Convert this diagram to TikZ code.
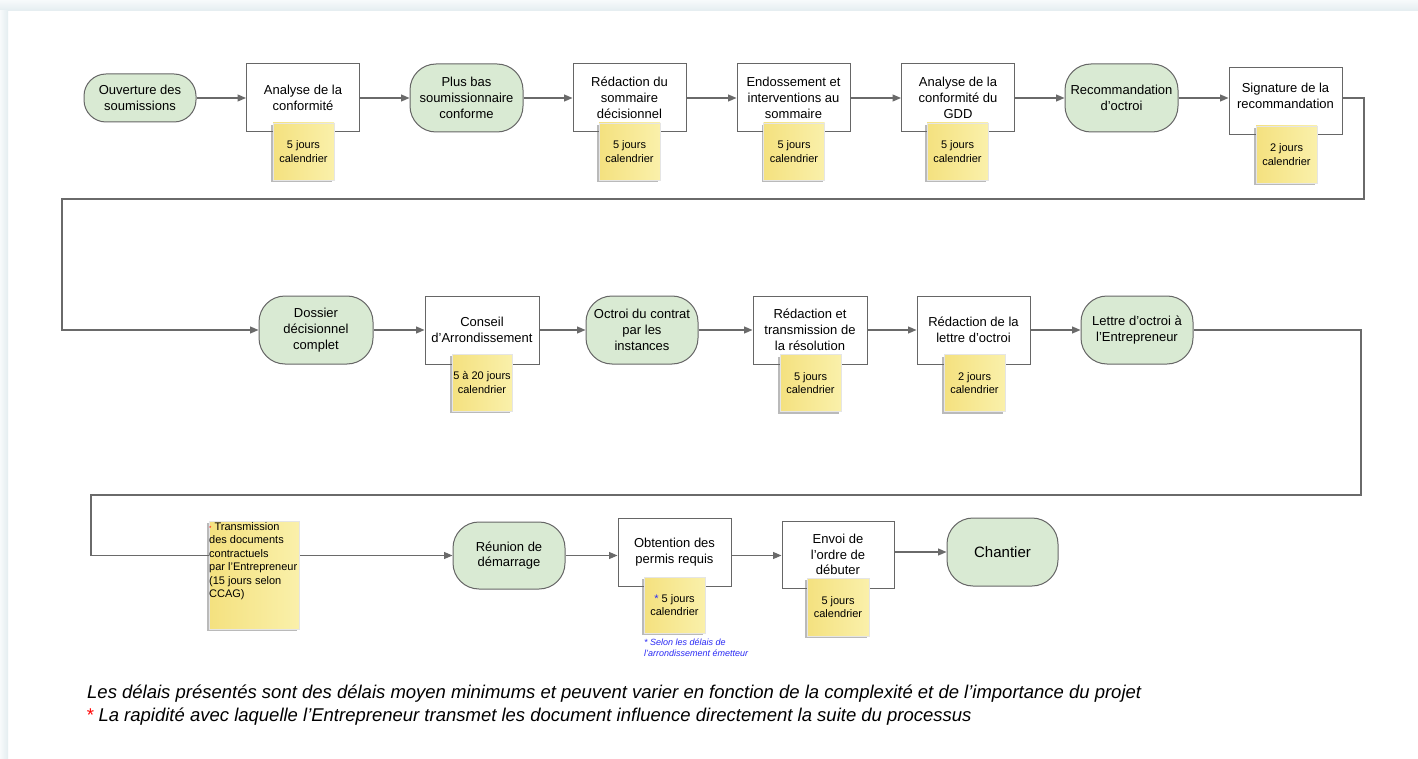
\documentclass[tikz,border=0pt]{standalone}
\usepackage{fontspec}
\setmainfont{Liberation Sans}
\usetikzlibrary{arrows.meta,shadows}
\definecolor{gfill}{HTML}{D9EAD3}
\definecolor{bord}{HTML}{666666}
\definecolor{linec}{HTML}{6A6A6A}
\definecolor{noteA}{HTML}{F4E17F}
\definecolor{noteB}{HTML}{FAF0AA}
\definecolor{bluet}{HTML}{2A2AF5}
\definecolor{bgA}{HTML}{F7FAFB}
\definecolor{bgB}{HTML}{E4EDF0}
\begin{document}
\begin{tikzpicture}[x=1pt,y=-1pt,
  box/.style={draw=bord, line width=1pt, fill=white, minimum width=113pt, minimum height=68pt, inner sep=1pt, align=center, font=\fontsize{13}{15.8}\selectfont},
  term/.style={box, fill=gfill, rounded corners=26pt},
  note/.style={draw=black!10, line width=0.3pt, left color=noteA, right color=noteB, minimum width=61pt, minimum height=57pt, inner sep=0pt, align=center, font=\fontsize{11}{13.3}\selectfont, drop shadow={shadow xshift=-1.6pt, shadow yshift=-2pt, opacity=0.45, fill=black!60}},
  arr/.style={draw=linec, line width=1.2pt, -{Triangle[length=8.5pt,width=7pt]}},
]
\useasboundingbox (0,0) rectangle (1418,759);
\fill[white] (0,0) rectangle (1418,759);
\shade[top color=bgA, bottom color=bgB] (0,0) rectangle (1418,11);
\shade[left color=bgA, right color=bgB] (0,11) rectangle (8,759);

% row 1
\node[term, minimum width=112pt, minimum height=48pt, rounded corners=22pt] (o1) at (140,98) {Ouverture des\\soumissions};
\node[box] (a1) at (303,98) {Analyse de la\\conformité};
\node[term] (g1) at (466.5,98) {Plus bas\\soumissionnaire\\conforme};
\node[box] (a2) at (629.5,98) {Rédaction du\\sommaire\\décisionnel};
\node[box] (a3) at (793.5,98) {Endossement et\\interventions au\\sommaire};
\node[box] (a4) at (958,98) {Analyse de la\\conformité du\\GDD};
\node[term] (g2) at (1121.5,98) {Recommandation\\d’octroi};
\node[box, minimum height=67pt] (a5) at (1285.5,101.5) {\raisebox{1.2pt}[0pt][0pt]{\begin{tabular}{@{}c@{}}Signature de la\\recommandation\end{tabular}}};

% row 2
\node[term, minimum width=114pt] (d1) at (316,330) {Dossier\\décisionnel\\complet};
\node[box, minimum width=114pt] (a6) at (482,330) {Conseil\\d’Arrondissement};
\node[term, minimum width=112pt] (g3) at (642,330) {Octroi du contrat\\par les\\instances};
\node[box, minimum width=114pt] (a7) at (810,330) {Rédaction et\\transmission de\\la résolution};
\node[box] (a8) at (973.5,330) {Rédaction de la\\lettre d’octroi};
\node[term, minimum width=112pt] (g4) at (1137,330) {Lettre d’octroi à\\l’Entrepreneur};

% row 3
\node[term, minimum width=112pt, minimum height=67pt] (r1) at (509,555.5) {Réunion de\\démarrage};
\node[box] (a9) at (674.5,552) {Obtention des\\permis requis};
\node[box, minimum width=112pt, minimum height=67pt] (a10) at (838,554.5) {Envoi de\\l’ordre de\\débuter};
\node[term, minimum width=111pt, font=\fontsize{15}{18}\selectfont] (g5) at (1002.5,552) {Chantier};

% connectors
\draw[arr] (o1.east) -- (a1.west);
\draw[arr] (a1.east) -- (g1.west);
\draw[arr] (g1.east) -- (a2.west);
\draw[arr] (a2.east) -- (a3.west);
\draw[arr] (a3.east) -- (a4.west);
\draw[arr] (a4.east) -- (g2.west);
\draw[arr] (g2.east) -- (g2.east -| a5.west);
\coordinate (t1) at (1364,199);
\coordinate (t2) at (62,199);
\draw[arr] (a5.east |- g2.east) -| (t1) -- (t2) |- (d1.west);

\draw[arr] (d1.east) -- (a6.west);
\draw[arr] (a6.east) -- (g3.west);
\draw[arr] (g3.east) -- (a7.west);
\draw[arr] (a7.east) -- (a8.west);
\draw[arr] (a8.east) -- (a8.east -| g4.west);
\coordinate (t3) at (1361,495);
\coordinate (t4) at (91,495);
\draw[arr] (g4.east) -| (t3) -- (t4) |- (r1.west);

\draw[arr] (r1.east) -- (r1.east -| a9.west);
\draw[arr] (r1.east -| a9.east) -- (r1.east -| a10.west);
\draw[arr] (a10.east |- g5.west) -- (g5.west);

% notes
\node[note] (n1) at (303.5,151.5) {5 jours\\calendrier};
\node[note] (n2) at (629.5,151.5) {5 jours\\calendrier};
\node[note] (n3) at (794,151.5) {5 jours\\calendrier};
\node[note] (n4) at (957.5,151.5) {5 jours\\calendrier};
\node[note] (n5) at (1286.5,154.5) {2 jours\\calendrier};
\node[note, minimum width=60pt] (n6) at (482,382.5) {5 à 20 jours\\calendrier};
\node[note] (n7) at (810.5,383) {5 jours\\calendrier};
\node[note] (n8) at (974.5,383) {2 jours\\calendrier};
\node[note, minimum width=90pt, minimum height=108pt] (nb) at (254,575) {};
\node[anchor=north west, inner sep=0pt, align=left, font=\fontsize{11}{13.5}\selectfont] (nbt) at (209,522) {{\color{red}\fontsize{6}{6}\selectfont*} Transmission\\des documents\\contractuels\\par l’Entrepreneur\\(15 jours selon\\CCAG)};
\node[note, minimum height=56pt] (n9) at (674.5,605) {{\color{bluet}*} 5 jours\\calendrier};
\node[note, minimum width=62pt, minimum height=58pt] (n10) at (838,607) {5 jours\\calendrier};
\node[anchor=north west, inner sep=0pt, align=left, text=bluet, font=\fontsize{9}{11}\selectfont\itshape] (bt) at (644,639) {* Selon les délais de\\l’arrondissement émetteur};

% footer
\node[anchor=west, inner sep=0pt, font=\fontsize{18.5}{23}\selectfont\itshape] (f1) at (87,694) {Les délais présentés sont des délais moyen minimums et peuvent varier en fonction de la complexité et de l’importance du projet};
\node[anchor=west, inner sep=0pt, font=\fontsize{18.5}{23}\selectfont\itshape] (f2) at (86,717) {{\color{red}*} La rapidité avec laquelle l’Entrepreneur transmet les document influence directement la suite du processus};
\end{tikzpicture}
\end{document}
